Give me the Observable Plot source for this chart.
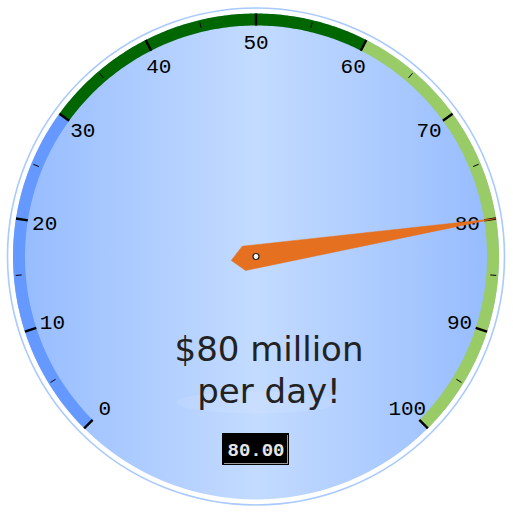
<!DOCTYPE html>
<html>
<head>
<meta charset="utf-8">
<script src="https://cdn.jsdelivr.net/npm/d3@7"></script>
<script src="https://cdn.jsdelivr.net/npm/@observablehq/plot@0.6"></script>
<style>
  body { margin: 0; background: #fff; }
  #chart svg { display: block; }
</style>
</head>
<body>
<div id="chart"></div>
<script>
// gauge data
const gaugeMin = 0;
const gaugeMax = 100;
const gaugeValue = 80;
const bandFrom = [0, 30, 60];
const bandTo = [30, 60, 100];
const bandColors = ["#6699ff", "#006600", "#99cc66"];
const majorTicks = [0, 10, 20, 30, 40, 50, 60, 70, 80, 90, 100];
const minorTicks = [5, 15, 25, 35, 45, 55, 65, 75, 85, 95];
const tickLabels = ["0", "10", "20", "30", "40", "50", "60", "70", "80", "90", "100"];
const captionLines = ["$80 million", "per day!"];

// geometry (pixels, since the scales are 1:1)
const W = 513, H = 515;
const cx = 255.5, cy = 256;
const angle = v => (-135 + (v - gaugeMin) / (gaugeMax - gaugeMin) * 270) * Math.PI / 180;
const pos = (v, r) => [cx + r * Math.sin(angle(v)), cy - r * Math.cos(angle(v))];

// band arcs, traced along each band's value range
const arcs = [];
bandFrom.forEach((from, i) => {
  for (let v = from; v <= bandTo[i] + 1e-9; v += 0.25) {
    const [x, y] = pos(v, 237);
    arcs.push({band: i, x, y});
  }
});

// needle outline in its own frame: [along, across]
const needleShape = [[243, 0], [-12, -12.3], [-25, 0], [-12.5, 12.2], [243, 0]];
const a = angle(gaugeValue);
const needle = needleShape.map(([u, w]) => ({
  x: cx + u * Math.sin(a) + w * Math.cos(a),
  y: cy - u * Math.cos(a) + w * Math.sin(a)
}));

// soft gloss under the caption
const gloss = d3.range(0, 361, 6).map(t => ({
  x: 256 + 80 * Math.cos(t * Math.PI / 180),
  y: 402 + 11 * Math.sin(t * Math.PI / 180)
}));

const digital = "'Liberation Mono', 'DejaVu Sans Mono', monospace";

const chart = Plot.plot({
  width: W,
  height: H,
  margin: 0,
  x: {domain: [0, W], range: [0, W], axis: null},
  y: {domain: [0, H], range: [0, H], axis: null},
  color: {type: "identity"},
  marks: [
    Plot.dot([0], {x: () => cx, y: () => cy, r: 243, fill: "url(#face)"}),
    Plot.line(gloss, {x: "x", y: "y", fill: "#ffffff", fillOpacity: 0.1, stroke: "none"}),
    Plot.dot([0], {x: () => cx, y: () => cy, r: 248.5, fill: "none", stroke: "#a9c9ff", strokeWidth: 1.6}),
    Plot.line(arcs, {x: "x", y: "y", z: "band", stroke: d => bandColors[d.band], strokeWidth: 12, strokeLinecap: "butt"}),
    Plot.link(majorTicks, {
      x1: v => pos(v, 231)[0], y1: v => pos(v, 231)[1],
      x2: v => pos(v, 243)[0], y2: v => pos(v, 243)[1],
      stroke: "#000", strokeWidth: 2.4
    }),
    Plot.link(minorTicks, {
      x1: v => pos(v, 235)[0], y1: v => pos(v, 235)[1],
      x2: v => pos(v, 241)[0], y2: v => pos(v, 241)[1],
      stroke: "#000", strokeWidth: 1
    }),
    Plot.text(majorTicks, {
      x: v => pos(v, 214)[0], y: v => pos(v, 214)[1],
      text: (v, i) => tickLabels[i],
      fontFamily: digital, fontSize: 21, fill: "#000"
    }),
    Plot.text(captionLines, {
      x: () => 268.5, y: (d, i) => 350 + i * 42,
      text: d => d,
      fontFamily: "DejaVu Sans", fontSize: 34, fill: "#222"
    }),
    Plot.rect([0], {x1: () => 222, x2: () => 289, y1: () => 433, y2: () => 465, fill: "#000"}),
    Plot.rect([0], {x1: () => 224, x2: () => 288, y1: () => 435, y2: () => 464, fill: "#9a9a9a"}),
    Plot.rect([0], {x1: () => 222, x2: () => 287, y1: () => 433, y2: () => 463, fill: "#000"}),
    Plot.text([gaugeValue], {
      x: () => 255.5, y: () => 449,
      text: d => d3.format(".2f")(d),
      fontFamily: digital, fontSize: 19, fontWeight: "bold", fill: "#e6e6e6"
    }),
    Plot.line(needle, {x: "x", y: "y", fill: "#e5701f", stroke: "#e5701f", strokeWidth: 0.5}),
    Plot.dot([0], {x: () => cx, y: () => cy, r: 3, fill: "#fff", stroke: "#222", strokeWidth: 1.2})
  ]
});

// horizontal shading of the dial face
const defs = d3.select(chart).insert("defs", ":first-child");
const grad = defs.append("linearGradient").attr("id", "face")
  .attr("x1", "0%").attr("x2", "100%").attr("y1", "0%").attr("y2", "0%");
grad.append("stop").attr("offset", "0%").attr("stop-color", "#95bbff");
grad.append("stop").attr("offset", "50%").attr("stop-color", "#c3dbff");
grad.append("stop").attr("offset", "100%").attr("stop-color", "#95bbff");

d3.select('#chart').append(() => chart);
</script>
</body>
</html>
